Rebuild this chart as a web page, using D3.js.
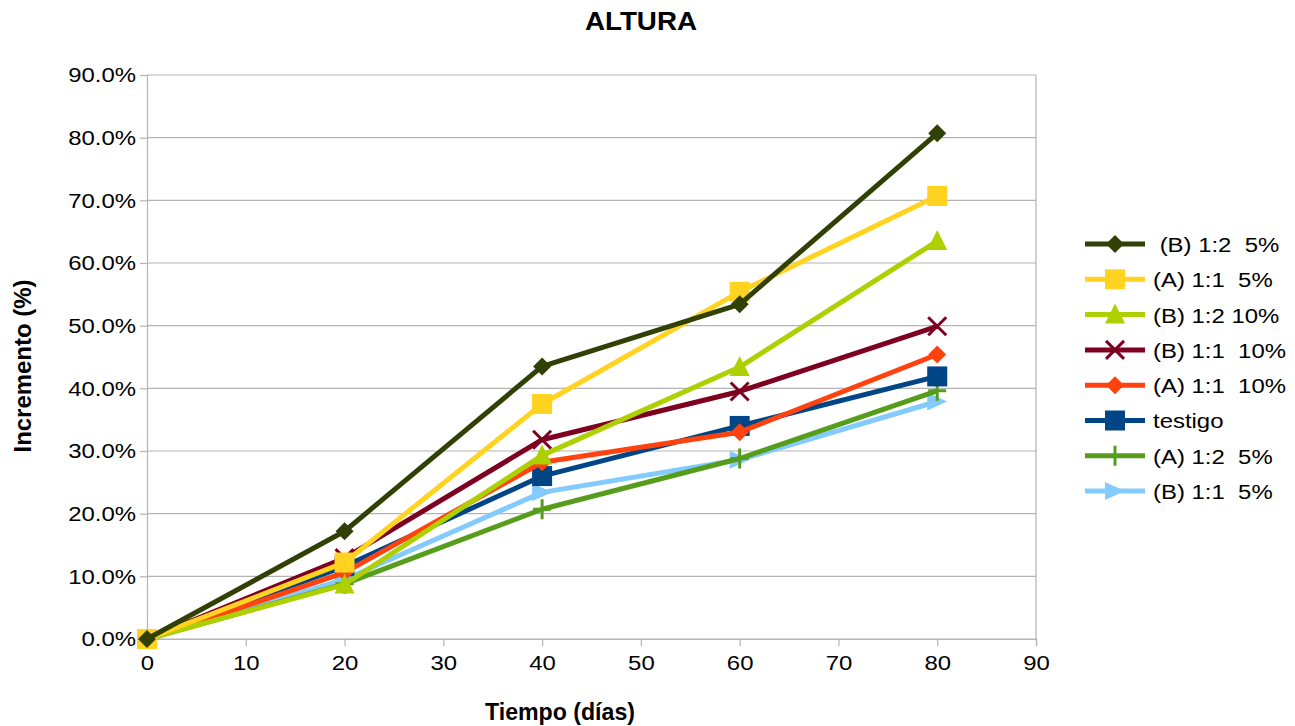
<!DOCTYPE html>
<html><head><meta charset="utf-8">
<script src="https://cdn.jsdelivr.net/npm/d3@7"></script>
<style>body{margin:0;background:#fff;font-family:"Liberation Sans",Arial,sans-serif}</style>
</head><body><svg id="c" width="1295" height="726"></svg>
<script>
const days = [0, 20, 40, 60, 80];
const seriesNames = [" (B) 1:2  5%", "(A) 1:1  5%", "(B) 1:2 10%", "(B) 1:1  10%", "(A) 1:1  10%", "testigo", "(A) 1:2  5%", "(B) 1:1  5%"];
const seriesColors = ["#314004", "#FFD320", "#AECF00", "#7E0021", "#FF420E", "#004586", "#579D1C", "#83CAFF"];
const seriesMarkers = ["diamond", "square", "triangle", "x", "diamond", "square", "plus", "arrow"];
const v_B12_5 = [0, 17.2, 43.5, 53.4, 80.7];
const v_A11_5 = [0, 12.2, 37.5, 55.4, 70.7];
const v_B12_10 = [0, 8.7, 29.3, 43.4, 63.5];
const v_B11_10 = [0, 12.9, 31.8, 39.5, 49.9];
const v_A11_10 = [0, 10.6, 28.2, 33.0, 45.4];
const testigo = [0, 11.6, 26.0, 34.0, 41.9];
const v_A12_5 = [0, 8.8, 20.7, 28.8, 39.6];
const v_B11_5 = [0, 9.5, 23.4, 28.6, 37.9];
const seriesValues = [v_B12_5, v_A11_5, v_B12_10, v_B11_10, v_A11_10, testigo, v_A12_5, v_B11_5];
const xTicks = [0, 10, 20, 30, 40, 50, 60, 70, 80, 90];
const yTicks = [0, 10, 20, 30, 40, 50, 60, 70, 80, 90];

const svg = d3.select("#c");
const L = 147, R = 1036, T = 75, B = 639;
const SX = 1.14;
const x = d3.scaleLinear().domain([0, 90]).range([L, R]);
const y = d3.scaleLinear().domain([0, 90]).range([B, T]);

svg.append("g").selectAll("line").data(yTicks).join("line")
  .attr("x1", L).attr("x2", R).attr("y1", d => y(d)).attr("y2", d => y(d))
  .attr("stroke", "#b3b3b3").attr("stroke-width", 1.2);
svg.append("line").attr("x1", R).attr("x2", R).attr("y1", T).attr("y2", B).attr("stroke", "#b3b3b3").attr("stroke-width", 1.2);

const font = '"Liberation Sans", Arial, sans-serif';
const yAxis = d3.axisLeft(y).tickValues(yTicks).tickFormat(d => d.toFixed(1) + "%").tickSize(7).tickPadding(4);
const gy = svg.append("g").attr("transform", `translate(${L},0)`).call(yAxis);
const xAxis = d3.axisBottom(x).tickValues(xTicks).tickSize(7).tickPadding(9);
const gx = svg.append("g").attr("transform", `translate(0,${B})`).call(xAxis);
[gy, gx].forEach(g => {
  g.selectAll(".domain").attr("stroke", "#b3b3b3").attr("stroke-width", 1.2);
  g.selectAll(".tick line").attr("stroke", "#b3b3b3").attr("stroke-width", 1.2);
  g.selectAll("text").attr("font-family", font).attr("font-size", 21).attr("fill", "#000");
});
gy.selectAll("text").attr("transform", `translate(-11,0) scale(${SX},1) translate(11,0)`);
gx.selectAll("text").attr("transform", `scale(${SX},1)`);

function marker(g, type, cx, cy, color) {
  const s = 10;
  if (type === "diamond") {
    g.append("path").attr("d", `M${cx},${cy-9}L${cx+9},${cy}L${cx},${cy+9}L${cx-9},${cy}Z`).attr("fill", color);
  } else if (type === "square") {
    g.append("rect").attr("x", cx - s).attr("y", cy - s).attr("width", 2*s).attr("height", 2*s).attr("fill", color);
  } else if (type === "triangle") {
    g.append("path").attr("d", `M${cx},${cy-11}L${cx+10},${cy+9}L${cx-10},${cy+9}Z`).attr("fill", color);
  } else if (type === "x") {
    g.append("path").attr("d", `M${cx-9},${cy-9}L${cx+9},${cy+9}M${cx+9},${cy-9}L${cx-9},${cy+9}`).attr("stroke", color).attr("stroke-width", 3);
  } else if (type === "plus") {
    g.append("path").attr("d", `M${cx},${cy-10}L${cx},${cy+10}M${cx-9},${cy}L${cx+9},${cy}`).attr("stroke", color).attr("stroke-width", 3);
  } else if (type === "arrow") {
    g.append("path").attr("d", `M${cx-10},${cy-9}L${cx+10},${cy}L${cx-10},${cy+9}Z`).attr("fill", color);
  }
}

const line = d3.line().x((d, i) => x(days[i])).y(d => y(d));
d3.range(seriesNames.length).reverse().forEach(i => {
  const g = svg.append("g");
  g.append("path").datum(seriesValues[i]).attr("d", line).attr("fill", "none")
    .attr("stroke", seriesColors[i]).attr("stroke-width", 5).attr("stroke-linejoin", "round");
  seriesValues[i].forEach((v, j) => marker(g, seriesMarkers[i], x(days[j]), y(v), seriesColors[i]));
});

const lg = svg.append("g");
seriesNames.forEach((n, i) => {
  const cy = 244 + i * 35.3;
  lg.append("line").attr("x1", 1085).attr("x2", 1145).attr("y1", cy).attr("y2", cy)
    .attr("stroke", seriesColors[i]).attr("stroke-width", 5);
  marker(lg, seriesMarkers[i], 1115, cy, seriesColors[i]);
  lg.append("text").attr("x", 1153).attr("y", cy + 8).text(n)
    .attr("transform", `translate(1153,0) scale(${SX},1) translate(-1153,0)`)
    .attr("font-family", font).attr("font-size", 21).style("white-space", "pre");
});

svg.append("text").attr("x", 641).attr("y", 30).attr("text-anchor", "middle")
  .attr("font-family", font).attr("font-size", 26).attr("font-weight", "bold")
  .attr("textLength", 112).attr("lengthAdjust", "spacingAndGlyphs").text("ALTURA");
svg.append("text").attr("x", 560).attr("y", 720).attr("text-anchor", "middle")
  .attr("font-family", font).attr("font-size", 23).attr("font-weight", "bold")
  .attr("textLength", 150).attr("lengthAdjust", "spacingAndGlyphs").text("Tiempo (días)");
svg.append("text").attr("transform", "translate(31,366) rotate(-90)").attr("text-anchor", "middle")
  .attr("font-family", font).attr("font-size", 24).attr("font-weight", "bold")
  .attr("textLength", 173).attr("lengthAdjust", "spacingAndGlyphs").text("Incremento (%)");
</script></body></html>
